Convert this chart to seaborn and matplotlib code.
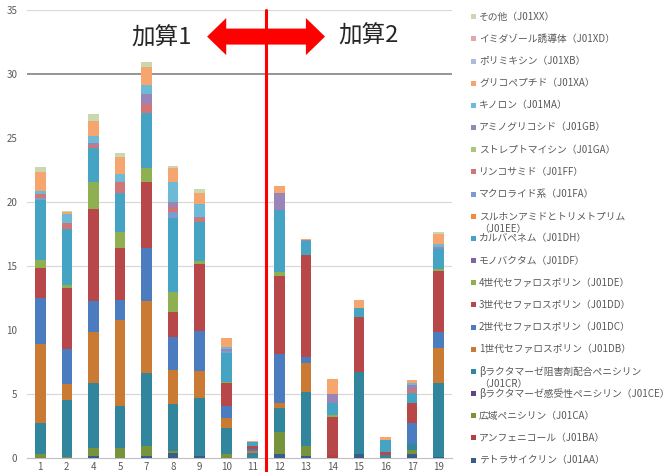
import numpy as np
import pandas as pd
import matplotlib
matplotlib.use("Agg")
import matplotlib.pyplot as plt
import matplotlib.patches as mpatches
import seaborn as sns

# x categories (hospital numbers)
hospitals = ["1", "2", "4", "5", "7", "8", "9", "10", "11", "12", "13", "14", "15", "16", "17", "19"]

# values per drug class, one value per hospital (stack bottom -> top)
J01AA = [0, 0, 0.1, 0, 0.1, 0.4, 0.13, 0, 0, 0.26, 0.13, 0, 0.26, 0, 0.3, 0.05]
J01BA = [0, 0, 0, 0, 0, 0, 0, 0, 0, 0, 0, 0.25, 0, 0, 0, 0]
J01CA = [0.3, 0.05, 0.63, 0.73, 0.84, 0.15, 0, 0.26, 0, 1.72, 0.78, 0, 0, 0, 0.3, 0]
J01CE = [0] * 16
J01CR = [2.45, 4.45, 5.08, 3.33, 5.65, 3.62, 4.51, 2.04, 0.35, 1.88, 4.2, 0, 6.41, 0.2, 0.5, 5.81]
J01DB = [6.15, 1.26, 4.03, 6.7, 5.65, 2.68, 2.13, 0.78, 0.2, 0.39, 2.27, 0, 0, 0, 0, 2.73]
J01DC = [3.57, 2.76, 2.4, 1.56, 4.12, 2.55, 3.13, 0.98, 0.1, 3.85, 0.52, 0, 0, 0, 1.63, 1.21]
J01DD = [2.35, 4.76, 7.19, 4.04, 5.2, 2.01, 5.23, 1.8, 0.3, 6.1, 7.9, 2.9, 4.35, 0.25, 1.52, 4.79]
J01DE = [0.65, 0.2, 2.11, 1.25, 1.1, 1.56, 0.26, 0.08, 0, 0.33, 0, 0.15, 0, 0, 0.05, 0.13]
J01DF = [0] * 16
J01DH = [4.68, 4.35, 2.63, 3.05, 4.29, 5.78, 3.05, 2.22, 0.25, 4.82, 1.1, 0.99, 0.7, 0.97, 0.78, 1.56]
J01EE = [0] * 16
J01FA = [0.15, 0, 0, 0, 0, 0.47, 0, 0.15, 0, 0, 0, 0, 0, 0, 0, 0]
J01FF = [0.3, 0.5, 0.26, 0.9, 0.65, 0.39, 0.3, 0, 0, 0, 0, 0, 0, 0, 0.26, 0]
J01GA = [0] * 16
J01GB = [0, 0, 0.18, 0, 0.79, 0.39, 0.1, 0.15, 0, 1.35, 0.1, 0.68, 0, 0, 0.34, 0.2]
J01MA = [0.2, 0.68, 0.52, 0.58, 0.73, 1.56, 0.99, 0.2, 0, 0, 0, 0, 0, 0, 0.18, 0.19]
J01XA = [1.55, 0.2, 1.2, 1.33, 1.38, 1.09, 0.83, 0.73, 0.12, 0.53, 0.1, 1.14, 0.6, 0.2, 0.21, 0.81]
J01XB = [0] * 16
J01XD = [0] * 16
J01XX = [0.35, 0.1, 0.5, 0.31, 0.44, 0.1, 0.3, 0, 0, 0, 0, 0, 0, 0, 0, 0.13]

# legend order (top -> bottom), label, colour
classes = [
    ("J01XX", "その他（J01XX）", "#c9d8ae", J01XX),
    ("J01XD", "イミダゾール誘導体（J01XD）", "#dfa9a8", J01XD),
    ("J01XB", "ポリミキシン（J01XB）", "#a9bedf", J01XB),
    ("J01XA", "グリコペプチド（J01XA）", "#f7a56e", J01XA),
    ("J01MA", "キノロン（J01MA）", "#6cbad6", J01MA),
    ("J01GB", "アミノグリコシド（J01GB）", "#9a85b8", J01GB),
    ("J01GA", "ストレプトマイシン（J01GA）", "#a9c67a", J01GA),
    ("J01FF", "リンコサミド（J01FF）", "#d07676", J01FF),
    ("J01FA", "マクロライド系（J01FA）", "#7a9cd0", J01FA),
    ("J01EE", "スルホンアミドとトリメトプリム\n（J01EE）", "#f08a3c", J01EE),
    ("J01DH", "カルバペネム（J01DH）", "#45a3c4", J01DH),
    ("J01DF", "モノバクタム（J01DF）", "#7f64a2", J01DF),
    ("J01DE", "4世代セファロスポリン（J01DE）", "#8fb050", J01DE),
    ("J01DD", "3世代セファロスポリン（J01DD）", "#b8474a", J01DD),
    ("J01DC", "2世代セファロスポリン（J01DC）", "#4a7cbf", J01DC),
    ("J01DB", "1世代セファロスポリン（J01DB）", "#cb7a33", J01DB),
    ("J01CR", "βラクタマーゼ阻害剤配合ペニシリン\n（J01CR）", "#31859c", J01CR),
    ("J01CE", "βラクタマーゼ感受性ペニシリン（J01CE）", "#5f497a", J01CE),
    ("J01CA", "広域ペニシリン（J01CA）", "#77933c", J01CA),
    ("J01BA", "アンフェニコール（J01BA）", "#b0423f", J01BA),
    ("J01AA", "テトラサイクリン（J01AA）", "#385d8a", J01AA),
]

rows = []
for code, label, color, vals in classes:
    for i, v in enumerate(vals):
        rows.append({"pos": i, "code": code, "value": v})
df = pd.DataFrame(rows)

sns.set_style("white")
plt.rcParams["font.family"] = ["Noto Sans CJK JP", "DejaVu Sans"]

fig = plt.figure(figsize=(6.72, 4.72), dpi=100)
ax = fig.add_axes([27 / 672, 1 - 457.7 / 472, 425 / 672, 448 / 472])

palette = {c[0]: c[2] for c in classes}
hue_order = [c[0] for c in classes]  # last level ends up at the bottom of the stack
sns.histplot(data=df, x="pos", weights="value", hue="code", hue_order=hue_order,
             palette=palette, multiple="stack", discrete=True, shrink=0.4,
             element="bars", alpha=1, linewidth=0, edgecolor="none",
             legend=False, ax=ax, zorder=3)

ax.set_xlim(-0.5, len(hospitals) - 0.5)
ax.set_ylim(0, 35)
ax.set_xlabel("")
ax.set_ylabel("")

# gridlines as seen in the picture
for yv in [5, 15, 20, 35]:
    ax.axhline(yv, color="#d9d9d9", lw=0.9, zorder=1)
ax.axhline(30, color="#8c8c8c", lw=1.3, zorder=1)

ax.set_yticks(range(0, 36, 5))
ax.set_xticks(range(len(hospitals)))
ax.set_xticklabels(hospitals)
ax.set_xticks(np.arange(-0.5, len(hospitals), 1), minor=True)
ax.tick_params(axis="y", length=0, pad=7, labelsize=7, labelcolor="#595959")
ax.tick_params(axis="x", which="major", length=0, pad=3, labelsize=7, labelcolor="#595959")
ax.tick_params(axis="x", which="minor", length=2, color="#a6a6a6", direction="in")
for s in ["left", "right", "top"]:
    ax.spines[s].set_visible(False)
ax.spines["bottom"].set_color("#bfbfbf")

# separator line and double arrow
ax.axvline(8.5, ymin=-0.035, ymax=1, color="red", lw=2.2, clip_on=False, zorder=4)
for d in [2.22, -2.22]:
    ax.add_patch(mpatches.FancyArrow(8.5, 32.9, d, 0, width=1.25, head_width=2.9,
                                     head_length=0.72, length_includes_head=True,
                                     color="red", lw=0, zorder=5))
ax.text(4.57, 32.8, "加算1", fontsize=17, ha="center", va="center", color="#262626")
ax.text(12.35, 32.9, "加算2", fontsize=17, ha="center", va="center", color="#262626")

# legend drawn on the right
for i, (code, label, color, vals) in enumerate(classes):
    y = 16.7 + i * 22.17
    fig.add_artist(mpatches.Rectangle((471 / 672, 1 - (y + 2.5) / 472), 5 / 672, 5 / 472,
                                      transform=fig.transFigure, color=color, lw=0))
    lines = label.split("\n")
    for k, line in enumerate(lines):
        fig.text(479 / 672, 1 - (y + k * 12.5) / 472, line, fontsize=7.05,
                 va="center", ha="left", color="#595959")

fig.savefig("out.png", dpi=100, facecolor="white")
